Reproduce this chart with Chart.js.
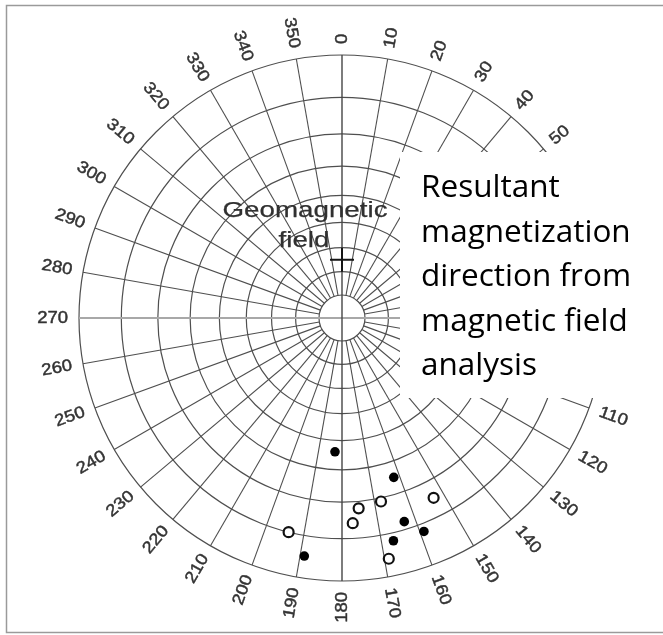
<!DOCTYPE html>
<html>
<head>
<meta charset="utf-8">
<script src="https://cdn.jsdelivr.net/npm/chart.js@4/dist/chart.umd.min.js"></script>
<style>
  html, body { margin: 0; padding: 0; background: #ffffff; }
  #wrap { width: 663px; height: 635px; }
</style>
</head>
<body>
<div id="wrap"><canvas id="net" width="663" height="635"></canvas></div>
<script>
// Site mean magnetization directions (declination, inclination in degrees).
// Positive inclination = lower hemisphere (filled), negative = upper (open).
const siteDeclination = [183, 162, 163, 159, 167, 189, 175, 177, 168, 153, 194, 169];
const siteInclination = [36, 25, 12, 8, 8, 5, -18, -14, -19, -15, -10, -4];

// Present geomagnetic field direction
const fieldDeclination = [0];
const fieldInclination = [65];

// Azimuth tick labels around the net and inclination rings
const azimuthTicks = [0, 10, 20, 30, 40, 50, 60, 70, 80, 90, 100, 110, 120, 130, 140, 150, 160, 170,
                      180, 190, 200, 210, 220, 230, 240, 250, 260, 270, 280, 290, 300, 310, 320, 330, 340, 350];
const inclinationRings = [0, 10, 20, 30, 40, 50, 60, 70, 80];

const fieldLabel = ['Geomagnetic', 'field'];
const noteLines = ['Resultant', 'magnetization', 'direction from', 'magnetic field', 'analysis'];

const DEG = Math.PI / 180;

// Equal-angle (Wulff) projection: radius as a fraction of the primitive circle
function wulffRadius(inc) {
  return Math.tan((90 - Math.abs(inc)) / 2 * DEG);
}
function project(dec, inc) {
  const r = wulffRadius(inc);
  return { x: r * Math.sin(dec * DEG), y: r * Math.cos(dec * DEG) };
}

const lowerPts = [], upperPts = [];
siteDeclination.forEach((d, i) => {
  const p = project(d, siteInclination[i]);
  (siteInclination[i] >= 0 ? lowerPts : upperPts).push(p);
});
const fieldPts = fieldDeclination.map((d, i) => project(d, fieldInclination[i]));

const SANS = '"Liberation Sans", Arial, sans-serif';

// fill text with a hairline outline so small labels read a little heavier
function heavyText(ctx, text, x, y, weight) {
  ctx.lineWidth = weight;
  ctx.lineJoin = 'round';
  ctx.strokeText(text, x, y);
  ctx.fillText(text, x, y);
}

const stereonet = {
  id: 'stereonet',
  beforeDatasetsDraw(chart) {
    const ctx = chart.ctx;
    const xs = chart.scales.x, ys = chart.scales.y;
    const cx = xs.getPixelForValue(0), cy = ys.getPixelForValue(0);
    const R = xs.getPixelForValue(1) - cx;

    ctx.save();
    // picture frame
    ctx.strokeStyle = '#9a9a9a';
    ctx.lineWidth = 1.5;
    ctx.strokeRect(6.5, 5.5, 700, 627);

    // inclination rings
    ctx.strokeStyle = '#4f4f4f';
    ctx.lineWidth = 1.2;
    inclinationRings.forEach(inc => {
      ctx.beginPath();
      ctx.arc(cx, cy, wulffRadius(inc) * R, 0, Math.PI * 2);
      ctx.stroke();
    });

    // radial declination lines
    const rIn = wulffRadius(inclinationRings[inclinationRings.length - 1]) * R;
    ctx.lineWidth = 1.1;
    azimuthTicks.forEach(az => {
      if (az % 90 === 0) return;
      const ux = Math.sin(az * DEG), uy = -Math.cos(az * DEG);
      ctx.beginPath();
      ctx.moveTo(cx + ux * rIn, cy + uy * rIn);
      ctx.lineTo(cx + ux * R, cy + uy * R);
      ctx.stroke();
    });

    // E-W diameter (light) and N-S diameter (dark)
    ctx.strokeStyle = '#a8a8a8';
    ctx.lineWidth = 2.2;
    ctx.beginPath();
    ctx.moveTo(cx - R, cy); ctx.lineTo(cx + R, cy);
    ctx.stroke();
    ctx.strokeStyle = '#454545';
    ctx.lineWidth = 1.4;
    ctx.beginPath();
    ctx.moveTo(cx, cy - R); ctx.lineTo(cx, cy + R);
    ctx.stroke();

    // azimuth labels, written along the radius
    ctx.fillStyle = '#333333';
    ctx.strokeStyle = '#333333';
    ctx.font = '16.5px ' + SANS;
    ctx.textBaseline = 'middle';
    azimuthTicks.forEach(az => {
      const ux = Math.sin(az * DEG), uy = -Math.cos(az * DEG);
      const rl = R + 11;
      ctx.save();
      ctx.translate(cx + ux * rl, cy + uy * rl);
      if (az < 180) {
        ctx.rotate((az - 90) * DEG);
        ctx.textAlign = 'left';
      } else {
        ctx.rotate((az - 270) * DEG);
        ctx.textAlign = 'right';
      }
      ctx.scale(1.12, 1);
      heavyText(ctx, String(az), 0, 0, 0.45);
      ctx.restore();
    });
    ctx.restore();
  },
  afterDatasetsDraw(chart) {
    const ctx = chart.ctx;
    const xs = chart.scales.x, ys = chart.scales.y;
    ctx.save();
    // label of the geomagnetic field cross
    const fx = xs.getPixelForValue(fieldPts[0].x), fy = ys.getPixelForValue(fieldPts[0].y);
    ctx.fillStyle = '#303030';
    ctx.strokeStyle = '#303030';
    ctx.font = '22.5px ' + SANS;
    ctx.textAlign = 'center';
    ctx.textBaseline = 'alphabetic';
    const stretch = 165 / ctx.measureText(fieldLabel[0]).width;
    ctx.save();
    ctx.translate(fx - 37, fy - 43);
    ctx.scale(stretch, 1);
    heavyText(ctx, fieldLabel[0], 0, 0, 0.25);
    ctx.restore();
    ctx.save();
    ctx.translate(fx - 38, fy - 13);
    ctx.scale(stretch, 1);
    heavyText(ctx, fieldLabel[1], 0, 0, 0.25);
    ctx.restore();

    // annotation panel
    ctx.fillStyle = '#ffffff';
    ctx.fillRect(400, 152, 263, 246);
    ctx.fillStyle = '#000000';
    ctx.font = '31.5px "Open Sans", sans-serif';
    ctx.textAlign = 'left';
    noteLines.forEach((t, i) => ctx.fillText(t, 421, 197 + i * 44.5));
    ctx.restore();
  }
};

new Chart(document.getElementById('net'), {
  type: 'scatter',
  data: {
    datasets: [
      {
        label: 'Lower hemisphere',
        data: lowerPts,
        pointStyle: 'circle',
        pointRadius: 4.8,
        backgroundColor: '#000000',
        borderColor: '#000000',
        borderWidth: 0
      },
      {
        label: 'Upper hemisphere',
        data: upperPts,
        pointStyle: 'circle',
        pointRadius: 5,
        backgroundColor: '#ffffff',
        borderColor: '#111111',
        borderWidth: 2.2
      },
      {
        label: 'Geomagnetic field',
        data: fieldPts,
        pointStyle: 'cross',
        pointRadius: 12,
        borderColor: '#151515',
        borderWidth: 2
      }
    ]
  },
  options: {
    responsive: false,
    animation: false,
    layout: { padding: { left: 79, right: 58, top: 55, bottom: 54 } },
    plugins: { legend: { display: false }, tooltip: { enabled: false } },
    scales: {
      x: { type: 'linear', min: -1, max: 1, display: false },
      y: { type: 'linear', min: -1, max: 1, display: false }
    }
  },
  plugins: [stereonet]
});
</script>
</body>
</html>
